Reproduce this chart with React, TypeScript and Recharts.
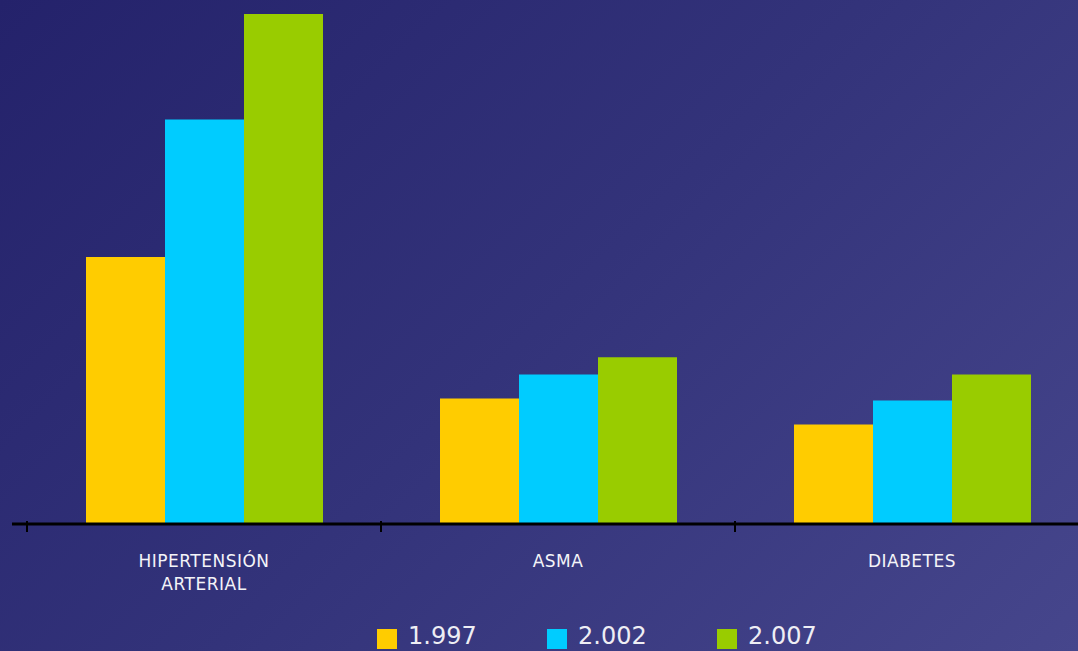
import { BarChart, Bar, XAxis, YAxis, Legend } from 'recharts';

const categories = ['HIPERTENSIÓN ARTERIAL', 'ASMA', 'DIABETES'];
const years = ['1.997', '2.002', '2.007'];
const serie1997 = [26.6, 12.5, 9.9];
const serie2002 = [40.3, 14.9, 12.3];
const serie2007 = [50.8, 16.6, 14.9];

const colors = ['#FFCC00', '#00CCFF', '#99CC00'];
const keys = ['y1997', 'y2002', 'y2007'];

const data = categories.map((name, i) => ({
  name,
  y1997: serie1997[i],
  y2002: serie2002[i],
  y2007: serie2007[i],
}));

const HALF_BAND = 177;

function CategoryTick(props: any) {
  const { x, y, payload } = props;
  const lines = String(payload.value).split(' ');
  return (
    <g>
      <line x1={x - HALF_BAND} y1={y - 3} x2={x - HALF_BAND} y2={y + 8} stroke="#000" strokeWidth={2} />
      <text
        x={x}
        y={y + 43}
        textAnchor="middle"
        fill="#f4f4f8"
        fontSize={17}
        letterSpacing={0.5}
        fontFamily="'DejaVu Sans', Verdana, sans-serif"
      >
        {lines.map((l, i) => (
          <tspan key={i} x={x} dy={i === 0 ? 0 : 23}>
            {l}
          </tspan>
        ))}
      </text>
    </g>
  );
}

function YearLegend() {
  return (
    <div style={{ display: 'flex', paddingLeft: 377, paddingTop: 13, fontFamily: "'DejaVu Sans', Verdana, sans-serif" }}>
      {years.map((y, i) => (
        <div key={y} style={{ display: 'flex', alignItems: 'flex-start', width: 170, height: 24 }}>
          <span style={{ width: 20, height: 20, background: colors[i], display: 'inline-block', marginTop: 5 }} />
          <span style={{ color: '#eeeef4', fontSize: 24, marginLeft: 11, lineHeight: '24px' }}>{y}</span>
        </div>
      ))}
    </div>
  );
}

export default function App() {
  return (
    <div
      style={{
        position: 'fixed',
        top: 0,
        left: 0,
        width: 1078,
        height: 651,
        overflow: 'hidden',
        background: 'linear-gradient(135deg, #24226b 0%, #33337a 50%, #46468c 100%)',
      }}
    >
      <BarChart
        width={1089}
        height={651}
        data={data}
        margin={{ top: 14, right: 0, left: 12, bottom: 0 }}
        barGap={0}
        barSize={79}
      >
        <XAxis
          dataKey="name"
          padding={{ left: 15, right: 0 }}
          axisLine={{ stroke: '#000', strokeWidth: 3 }}
          tickLine={false}
          tickSize={0}
          tickMargin={0}
          height={87}
          interval={0}
          tick={<CategoryTick />}
        />
        <YAxis hide domain={[0, 50.8]} />
        <Legend
          verticalAlign="bottom"
          height={40}
          wrapperStyle={{ left: 0, width: 1078 }}
          content={<YearLegend />}
        />
        {keys.map((k, i) => (
          <Bar key={k} dataKey={k} name={years[i]} fill={colors[i]} isAnimationActive={false} />
        ))}
      </BarChart>
    </div>
  );
}
